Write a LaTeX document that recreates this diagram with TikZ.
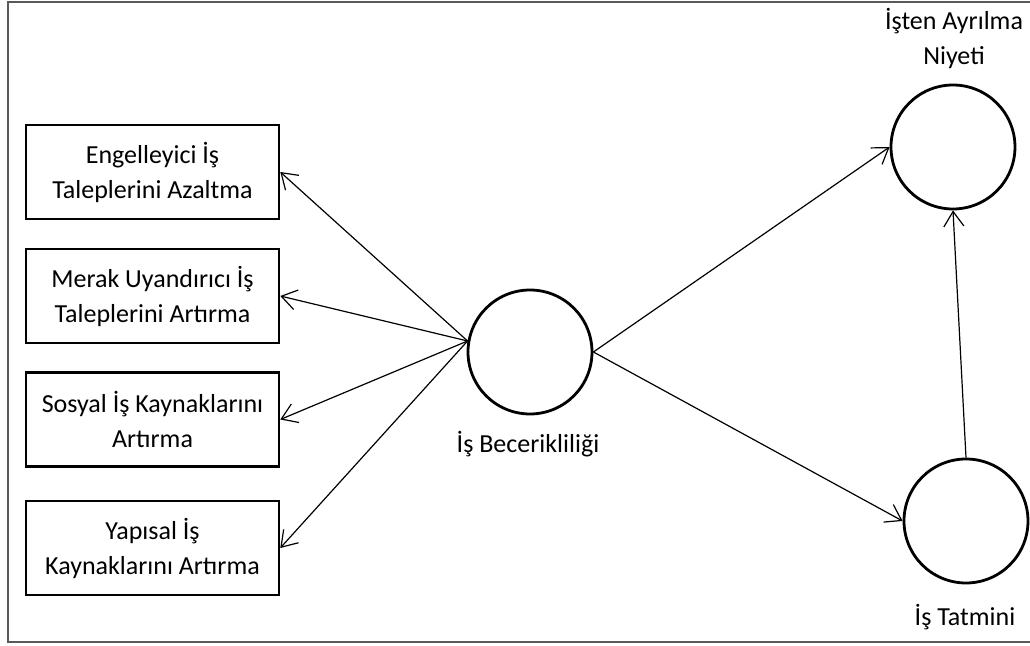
\documentclass[tikz,border=0pt]{standalone}
\usepackage{fontspec}
\setmainfont{Carlito}
\usetikzlibrary{arrows.meta}
\usetikzlibrary{shapes}

\begin{document}
\begin{tikzpicture}[x=0.5pt,y=-0.5pt,
kutu/.style={draw,line width=1.3pt,minimum width=126.5pt,minimum height=47pt,align=center,font=\fontsize{13}{17.5}\selectfont},
daire/.style={draw,circle,line width=1.4pt,minimum size=62pt,inner sep=0pt},
etiket/.style={align=center,font=\fontsize{13}{17.5}\selectfont},
ok/.style={-{Straight Barb[length=7.5pt,width=10pt]},line width=0.6pt}]
\useasboundingbox (0,0) rectangle (1030,646);
\draw [line width=0.75pt,black!65] (1030,2) -- (8,2) -- (8,642) -- (1030,642);
\node [kutu] (azalt) at (152.5,172) {Engelleyici İş\\Taleplerini Azaltma};
\node [kutu] (merak) at (152.5,296) {Merak Uyandırıcı İş\\Taleplerini Artırma};
\node [kutu] (sosyal) at (152.5,419.5) {Sosyal İş Kaynaklarını\\Artırma};
\node [kutu] (yapi) at (152.5,548) {Yapısal İş\\Kaynaklarını Artırma};
\node [daire] (bec) at (530,352) {};
\node [daire] (niy) at (953,147) {};
\node [daire] (tat) at (966,521) {};
\node [etiket] (becyazi) at (528,444) {İş Becerikliliği};
\node [etiket] (niyyazi) at (954,38) {İşten Ayrılma\\Niyeti};
\node [etiket] (tatyazi) at (965,617) {İş Tatmini};
\draw [ok] (bec.170) -- (azalt.east);
\draw [ok] (bec.170) -- (merak.east);
\draw [ok] (bec.170) -- (sosyal.east);
\draw [ok] (bec.170) -- (yapi.east);
\draw [ok] (bec.east) -- (niy.west);
\draw [ok] (bec.east) -- (tat.west);
\draw [ok] (tat.north) -- (niy.south);
\end{tikzpicture}
\end{document}
